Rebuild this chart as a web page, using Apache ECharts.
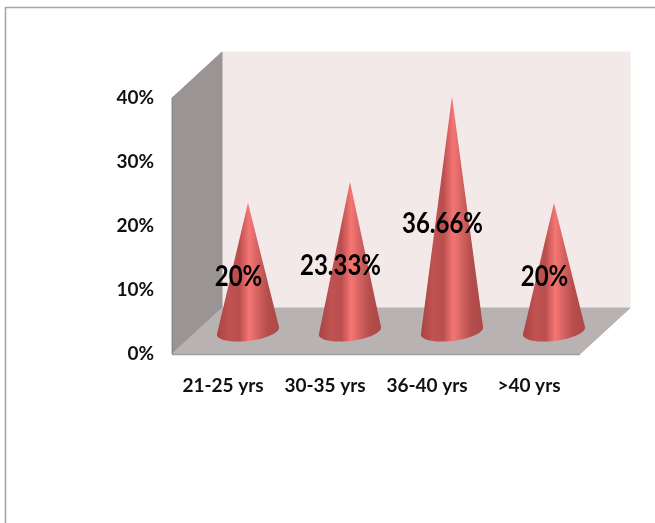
<!DOCTYPE html>
<html>
<head>
<meta charset="utf-8">
<style>html,body{margin:0;padding:0;background:#fff}#c{width:655px;height:523px}</style>
<script src="https://cdn.jsdelivr.net/npm/echarts@6/dist/echarts.min.js"></script>
</head>
<body>
<div id="c"></div>
<script>
const categories = ['21-25 yrs', '30-35 yrs', '36-40 yrs', '>40 yrs'];
const values = [20, 23.33, 36.66, 20];
const valueLabels = ['20%', '23.33%', '36.66%', '20%'];
const yTicks = { min: 0, max: 40, interval: 10 };
const depth = { dx: 50, dy: -46 };
const FONT = 'Lato, "Open Sans", sans-serif';

const chart = echarts.init(document.getElementById('c'), null, { renderer: 'canvas' });

function renderWalls(params, api) {
  const c = params.coordSys;
  const x0 = c.x, x1 = c.x + c.width, yT = c.y, yB = c.y + c.height;
  const dx = depth.dx, dy = depth.dy;
  const poly = (points, fill, stroke) => ({
    type: 'polygon', shape: { points },
    style: { fill, stroke: stroke || fill, lineWidth: 1 }, silent: true
  });
  return {
    type: 'group',
    children: [
      poly([[x0 + dx, yT + dy], [x1 + dx, yT + dy], [x1 + dx, yB + dy], [x0 + dx, yB + dy]], '#f4e9e9'),
      poly([[x0, yT], [x0 + dx, yT + dy], [x0 + dx, yB + dy], [x0, yB]], '#9a9494'),
      poly([[x0, yB], [x0 + dx, yB + dy], [x1 + dx, yB + dy], [x1, yB]], '#b8b2b2'),
      { type: 'line', shape: { x1: x0, y1: yB + 0.5, x2: x1, y2: yB + 0.5 }, style: { stroke: '#a09c9c', lineWidth: 1.5 }, silent: true },
      { type: 'line', shape: { x1: x0 + 0.5, y1: yT, x2: x0 + 0.5, y2: yB }, style: { stroke: '#8a8585', lineWidth: 1 }, silent: true }
    ]
  };
}

function renderCone(params, api) {
  const i = api.value(0), v = api.value(1);
  const ox = depth.dx / 2, oy = depth.dy / 2;
  const base = api.coord([i, 0]);
  const top = api.coord([i, v]);
  const mid = api.coord([i, v / 2]);
  const a = api.size([1, 0])[0] * 0.305;
  const b = 10, tilt = 0.113;
  const cx = base[0] + ox, cy = base[1] + oy;
  const pts = [[top[0] + ox, top[1] + oy]];
  for (let k = 0; k <= 48; k++) {
    const t = Math.PI * k / 48;
    const ex = a * Math.cos(t);
    pts.push([cx + ex, cy + b * Math.sin(t) - tilt * ex]);
  }
  const grad = new echarts.graphic.LinearGradient(0, 0, 1, 0, [
    { offset: 0, color: '#a84442' },
    { offset: 0.2, color: '#c05351' },
    { offset: 0.36, color: '#b94f4d' },
    { offset: 0.52, color: '#f57674' },
    { offset: 0.66, color: '#d36260' },
    { offset: 0.82, color: '#b44d4b' },
    { offset: 1, color: '#ae4846' }
  ]);
  return {
    type: 'group',
    children: [
      { type: 'polygon', shape: { points: pts }, style: { fill: grad } },
      {
        type: 'text', z2: 10,
        x: mid[0] + ox - 9.5, y: mid[1] + oy + 10,
        scaleY: 1.15,
        style: {
          text: valueLabels[params.dataIndex], fill: '#000',
          font: 'bold 24px ' + FONT, align: 'center', verticalAlign: 'middle'
        }
      }
    ]
  };
}

chart.setOption({
  animation: false,
  backgroundColor: '#fff',
  graphic: [{
    type: 'polyline', z: -1, silent: true,
    shape: { points: [[5.5, 523], [5.5, 7.5], [655, 7.5]] },
    style: { fill: 'none', stroke: '#a6a6a6', lineWidth: 1.6 }
  }],
  grid: { left: 172, top: 98, width: 408, height: 256, containLabel: false },
  xAxis: {
    type: 'category', data: categories,
    axisLine: { show: false }, axisTick: { show: false }, splitLine: { show: false },
    axisLabel: { color: '#111', fontFamily: FONT, fontWeight: 'bold', fontSize: 19, margin: 22, interval: 0 }
  },
  yAxis: {
    type: 'value', min: yTicks.min, max: yTicks.max, interval: yTicks.interval,
    axisLine: { show: false }, axisTick: { show: false }, splitLine: { show: false },
    axisLabel: { color: '#111', fontFamily: FONT, fontWeight: 'bold', fontSize: 19, margin: 18, padding: [2, 0, 0, 0], formatter: '{value}%' }
  },
  series: [
    { type: 'custom', coordinateSystem: 'cartesian2d', clip: false, z: 1, silent: true,
      renderItem: renderWalls, data: [[0, 0]], encode: { x: 0, y: 1 } },
    { type: 'custom', coordinateSystem: 'cartesian2d', clip: false, z: 2, silent: true,
      renderItem: renderCone, data: values.map((v, i) => [i, v]), encode: { x: 0, y: 1 } }
  ]
});
</script>
</body>
</html>
